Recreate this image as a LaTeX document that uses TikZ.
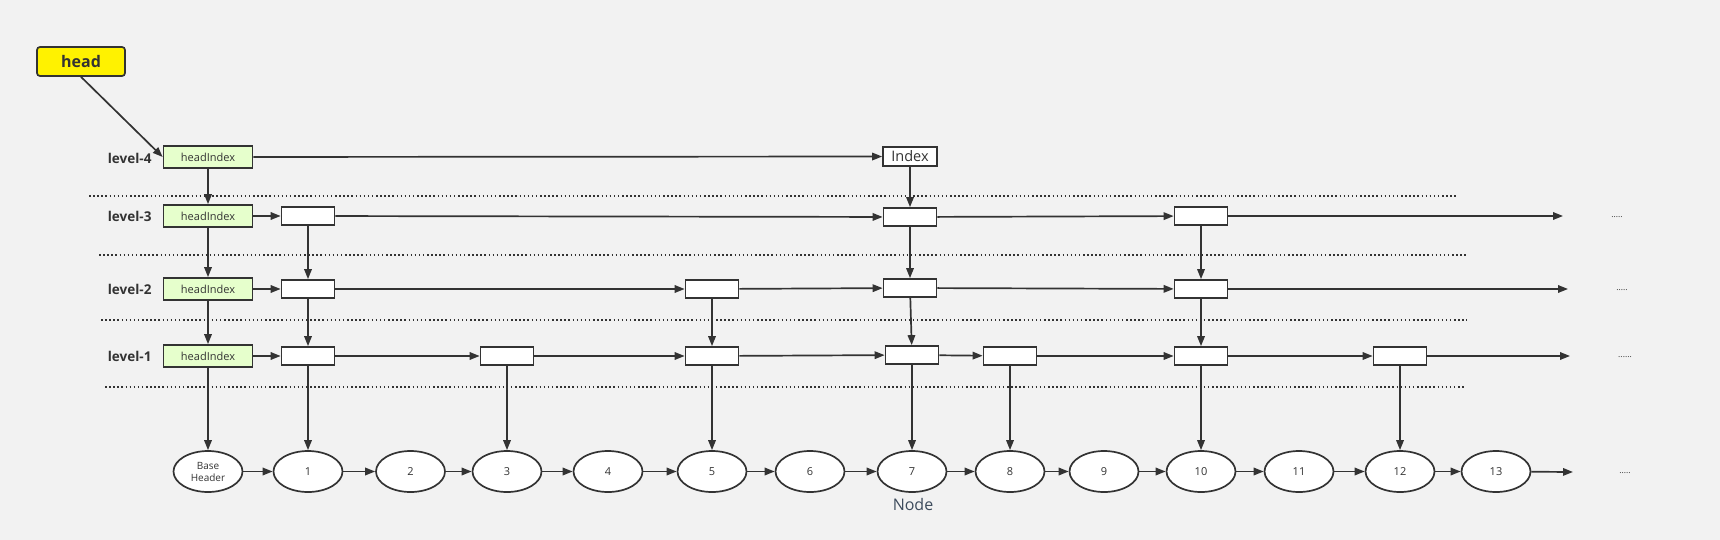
\documentclass[tikz,border=0pt]{standalone}
\usepackage{fontspec}
\setmainfont{Open Sans}
\usetikzlibrary{arrows.meta,shapes.geometric}
\definecolor{bgc}{HTML}{F2F2F2}
\definecolor{ln}{HTML}{333333}
\definecolor{hig}{HTML}{E6FFCC}
\definecolor{nodelbl}{HTML}{3D4B5C}
\tikzset{
  arr/.style={draw=ln,line width=1.7pt,-{Triangle[length=10pt,width=7.5pt]}},
  hibox/.style={draw=ln,line width=1.7pt,fill=hig,minimum width=89pt,minimum height=22pt,inner sep=0pt,font=\fontsize{11}{12}\selectfont,text=ln},
  wbox/.style={draw=ln,line width=1.7pt,fill=white,minimum width=53pt,minimum height=18pt,inner sep=0pt},
  ell/.style={ellipse,draw=ln,line width=1.7pt,fill=white,minimum width=69pt,minimum height=41pt,inner sep=0pt,font=\fontsize{11}{12}\selectfont,text=ln},
  lvl/.style={font=\bfseries\fontsize{13.5}{14}\selectfont,text=ln,anchor=east},
  dots/.style={draw=ln,line width=1.5pt,dash pattern=on 1.5pt off 2.6pt},
  more/.style={font=\fontsize{8.5}{9}\selectfont,text=ln}
}
\begin{document}
\begin{tikzpicture}[x=1pt,y=-1pt]
\fill[bgc] (0,0) rectangle (1720,540);
\useasboundingbox (0,0) rectangle (1720,540);

% head
\node[draw=ln,line width=1.7pt,fill=yellow,rounded corners=3pt,minimum width=88pt,minimum height=29pt,inner sep=0pt,font=\bfseries\fontsize{16}{18}\selectfont,text=ln] (head) at (81,61.5) {head};

% level labels
\node[lvl] (l4) at (155,158) {level-4};
\node[lvl] (l3) at (155,216) {level-3};
\node[lvl] (l2) at (155,289) {level-2};
\node[lvl] (l1) at (155,356) {level-1};

% dotted separators
\coordinate (d1a) at (89,196);  \coordinate (d1b) at (1458,196);
\coordinate (d2a) at (99,255);  \coordinate (d2b) at (1468,255);
\coordinate (d3a) at (101,320); \coordinate (d3b) at (1467,320);
\coordinate (d4a) at (105,387); \coordinate (d4b) at (1466,387);
\draw[dots] (d1a) -- (d1b);
\draw[dots] (d2a) -- (d2b);
\draw[dots] (d3a) -- (d3b);
\draw[dots] (d4a) -- (d4b);

% head index column
\node[hibox] (hi4) at (208,157) {headIndex};
\node[hibox] (hi3) at (208,216) {headIndex};
\node[hibox] (hi2) at (208,289) {headIndex};
\node[hibox] (hi1) at (208,356) {headIndex};

% level 4
\node[draw=ln,line width=1.7pt,fill=white,minimum width=54pt,minimum height=19pt,inner sep=0pt,font=\fontsize{14.5}{16}\selectfont,text=ln] (idx) at (910,156.5) {Index};

% level 3
\node[wbox] (b31) at (308,216) {};
\node[wbox] (b37) at (910,217) {};
\node[wbox] (b310) at (1201,216) {};
% level 2
\node[wbox] (b21) at (308,289) {};
\node[wbox] (b25) at (712,289) {};
\node[wbox] (b27) at (910,288) {};
\node[wbox] (b210) at (1201,289) {};
% level 1
\node[wbox] (b11) at (308,356) {};
\node[wbox] (b13) at (507,356) {};
\node[wbox] (b15) at (712,356) {};
\node[wbox] (b17) at (912,355) {};
\node[wbox] (b18) at (1010,356) {};
\node[wbox] (b110) at (1201,356) {};
\node[wbox] (b112) at (1400,356) {};

% nodes
\node[ell,align=center,font=\fontsize{10}{12}\selectfont] (n0) at (208,471.5) {Base\\Header};
\node[ell] (n1) at (308,471.5) {1};
\node[ell] (n2) at (410.5,471.5) {2};
\node[ell] (n3) at (507,471.5) {3};
\node[ell] (n4) at (608,471.5) {4};
\node[ell] (n5) at (712,471.5) {5};
\node[ell] (n6) at (810,471.5) {6};
\node[ell] (n7) at (912,471.5) {7};
\node[ell] (n8) at (1010,471.5) {8};
\node[ell] (n9) at (1104,471.5) {9};
\node[ell] (n10) at (1201,471.5) {10};
\node[ell] (n11) at (1299,471.5) {11};
\node[ell] (n12) at (1400,471.5) {12};
\node[ell] (n13) at (1496,471.5) {13};

\node[font=\fontsize{16}{18}\selectfont,text=nodelbl] (nodelabel) at (913,504) {Node};

% free ends
\coordinate (e3) at (1563,216);
\coordinate (e2) at (1568,289);
\coordinate (e1) at (1570,356);
\coordinate (e0) at (1573,472);
\node[more] (m3) at (1617,217) {.....};
\node[more] (m2) at (1622,290) {.....};
\node[more] (m1) at (1625,357) {......};
\node[more] (m0) at (1625,473) {.....};

% head arrow
\draw[arr] (head.south) -- (hi4.west);

% vertical links
\draw[arr] (hi4) -- (hi3);
\draw[arr] (hi3) -- (hi2);
\draw[arr] (hi2) -- (hi1);
\draw[arr] (hi1) -- (n0);
\draw[arr] (idx) -- (b37);
\draw[arr] (b37) -- (b27);
\draw[arr] (b27) -- (b17);
\draw[arr] (b17) -- (n7);
\draw[arr] (b31) -- (b21);
\draw[arr] (b21) -- (b11);
\draw[arr] (b11) -- (n1);
\draw[arr] (b310) -- (b210);
\draw[arr] (b210) -- (b110);
\draw[arr] (b110) -- (n10);
\draw[arr] (b25) -- (b15);
\draw[arr] (b15) -- (n5);
\draw[arr] (b13) -- (n3);
\draw[arr] (b18) -- (n8);
\draw[arr] (b112) -- (n12);

% horizontal links
\draw[arr] (hi4) -- (idx);
\draw[arr] (hi3) -- (b31);
\draw[arr] (b31) -- (b37);
\draw[arr] (b37) -- (b310);
\draw[arr] (b310) -- (e3);
\draw[arr] (hi2) -- (b21);
\draw[arr] (b21) -- (b25);
\draw[arr] (b25) -- (b27);
\draw[arr] (b27) -- (b210);
\draw[arr] (b210) -- (e2);
\draw[arr] (hi1) -- (b11);
\draw[arr] (b11) -- (b13);
\draw[arr] (b13) -- (b15);
\draw[arr] (b15) -- (b17);
\draw[arr] (b17) -- (b18);
\draw[arr] (b18) -- (b110);
\draw[arr] (b110) -- (b112);
\draw[arr] (b112) -- (e1);
\draw[arr] (n0) -- (n1);
\draw[arr] (n1) -- (n2);
\draw[arr] (n2) -- (n3);
\draw[arr] (n3) -- (n4);
\draw[arr] (n4) -- (n5);
\draw[arr] (n5) -- (n6);
\draw[arr] (n6) -- (n7);
\draw[arr] (n7) -- (n8);
\draw[arr] (n8) -- (n9);
\draw[arr] (n9) -- (n10);
\draw[arr] (n10) -- (n11);
\draw[arr] (n11) -- (n12);
\draw[arr] (n12) -- (n13);
\draw[arr] (n13) -- (e0);
\end{tikzpicture}
\end{document}
